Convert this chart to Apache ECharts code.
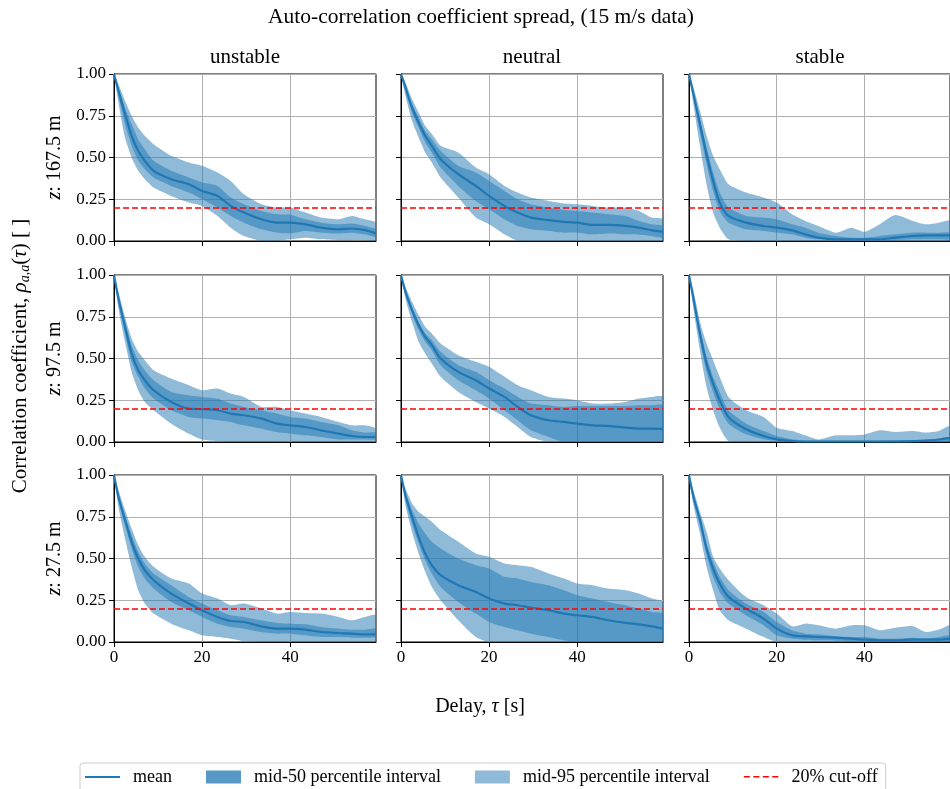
<!DOCTYPE html>
<html>
<head>
<meta charset="utf-8">
<script src="https://cdn.jsdelivr.net/npm/echarts@6/dist/echarts.min.js"></script>
<style>
html, body { margin: 0; padding: 0; background: #fff; }
#container { width: 950px; height: 789px; }
</style>
</head>
<body>
<div id="container"></div>
<script>
// delay axis (s), shared by all panels
var delay = [0, 1, 2.5, 4, 5.5, 7, 9, 13, 17, 20, 23.5, 26.5, 29.5, 33.5, 37, 40, 43.5, 47, 51, 54, 57, 59.5];
var stabilities = ['unstable', 'neutral', 'stable'];
var heights = ['167.5', '97.5', '27.5'];
var xTicks = [0, 20, 40];
var cutoff = 0.2;

// z = 167.5 m
var u167Mean = [1, .90, .76, .63, .54, .48, .42, .37, .34, .30, .27, .21, .17, .13, .11, .11, .10, .08, .07, .075, .065, .045];
var u167P75  = [1, .92, .80, .70, .61, .55, .48, .42, .38, .35, .33, .26, .22, .18, .16, .157, .13, .11, .10, .105, .09, .07];
var u167P25  = [1, .87, .70, .57, .48, .43, .38, .33, .29, .25, .20, .15, .11, .07, .05, .046, .06, .05, .045, .05, .04, .025];
var u167P97  = [1, .94, .84, .75, .68, .63, .58, .51, .47, .45, .41, .36, .28, .22, .20, .20, .17, .14, .13, .15, .13, .11];
var u167P2   = [1, .83, .62, .50, .42, .37, .32, .27, .23, .21, .15, .08, .03, 0, 0, .01, .02, .01, .005, .005, .005, 0];

var n167Mean = [1, .92, .80, .71, .63, .57, .49, .40, .33, .27, .21, .17, .14, .125, .115, .11, .096, .096, .09, .08, .064, .056];
var n167P75  = [1, .93, .82, .74, .66, .61, .54, .45, .41, .36, .30, .25, .22, .20, .185, .18, .17, .16, .15, .12, .10, .09];
var n167P25  = [1, .90, .77, .68, .59, .53, .44, .33, .24, .19, .13, .09, .07, .06, .05, .05, .04, .045, .04, .038, .03, .02];
var n167P97  = [1, .95, .85, .77, .69, .64, .57, .53, .44, .40, .33, .29, .26, .24, .225, .22, .21, .20, .20, .18, .14, .13];
var n167P2   = [1, .87, .72, .62, .53, .47, .38, .26, .14, .10, .04, 0, 0, 0, 0, 0, 0, 0, 0, 0, 0, 0];

var s167Mean = [1, .88, .70, .52, .36, .23, .15, .11, .09, .08, .064, .04, .02, .01, .01, .01, .01, .02, .03, .034, .034, .034];
var s167P75  = [1, .90, .73, .56, .41, .29, .20, .15, .14, .13, .10, .08, .05, .03, .02, .02, .03, .04, .05, .05, .05, .05];
var s167P25  = [1, .86, .65, .46, .30, .18, .11, .07, .06, .05, .04, .02, .01, .005, .005, .005, .005, .005, .01, .01, .01, .01];
var s167P97  = [1, .92, .78, .63, .51, .43, .34, .29, .26, .23, .16, .12, .09, .05, .08, .055, .10, .155, .12, .10, .11, .12];
var s167P2   = [1, .82, .57, .34, .17, .08, .01, 0, 0, 0, 0, 0, 0, 0, 0, 0, 0, 0, 0, 0, 0, 0];

// z = 97.5 m
var u97Mean = [1, .86, .69, .53, .43, .37, .31, .24, .20, .197, .19, .17, .16, .14, .11, .10, .09, .07, .05, .036, .03, .03];
var u97P75  = [1, .88, .72, .58, .49, .43, .37, .30, .28, .27, .26, .23, .21, .19, .17, .15, .14, .12, .10, .07, .056, .056];
var u97P25  = [1, .84, .65, .48, .39, .32, .26, .19, .15, .14, .13, .12, .10, .08, .06, .05, .04, .03, .015, .015, .015, .015];
var u97P97  = [1, .90, .75, .62, .54, .49, .43, .38, .34, .31, .32, .29, .27, .21, .21, .19, .17, .15, .12, .10, .10, .08];
var u97P2   = [1, .80, .60, .42, .31, .24, .19, .11, .05, .015, .005, 0, 0, 0, 0, 0, 0, 0, 0, 0, 0, 0];

var n97Mean = [1, .90, .79, .70, .63, .58, .50, .42, .37, .32, .27, .21, .16, .13, .12, .11, .10, .096, .086, .08, .08, .078];
var n97P75  = [1, .91, .81, .72, .65, .61, .54, .46, .42, .37, .32, .27, .23, .22, .21, .215, .215, .215, .215, .22, .22, .22];
var n97P25  = [1, .89, .77, .67, .60, .55, .46, .37, .31, .26, .19, .13, .07, .03, 0, 0, 0, 0, 0, 0, 0, 0];
var n97P97  = [1, .93, .84, .76, .69, .65, .59, .52, .48, .45, .39, .34, .31, .27, .26, .25, .23, .23, .24, .26, .27, .27];
var n97P2   = [1, .86, .72, .60, .53, .47, .39, .30, .24, .20, .15, .09, .03, 0, 0, 0, 0, 0, 0, 0, 0, 0];

var s97Mean = [1, .86, .65, .47, .35, .25, .15, .076, .036, .016, .006, .003, .003, .003, .003, .003, .003, .003, .005, .008, .015, .025];
var s97P75  = [1, .88, .68, .51, .39, .30, .19, .11, .066, .036, .016, .008, .008, .008, .008, .008, .008, .01, .012, .015, .02, .03];
var s97P25  = [1, .84, .61, .42, .30, .20, .11, .046, .016, .006, 0, 0, 0, 0, 0, 0, 0, 0, 0, 0, 0, 0];
var s97P97  = [1, .91, .72, .59, .49, .39, .27, .19, .15, .086, .066, .04, .015, .04, .04, .045, .07, .06, .066, .056, .066, .096];
var s97P2   = [1, .80, .55, .33, .19, .086, .006, 0, 0, 0, 0, 0, 0, 0, 0, 0, 0, 0, 0, 0, 0, 0];

// z = 27.5 m
var u27Mean = [1, .87, .73, .60, .50, .43, .37, .29, .23, .19, .15, .126, .12, .094, .08, .08, .074, .06, .054, .05, .046, .046];
var u27P75  = [1, .89, .76, .64, .54, .47, .41, .34, .27, .23, .19, .16, .15, .13, .114, .11, .106, .09, .08, .074, .074, .08];
var u27P25  = [1, .85, .70, .56, .45, .38, .32, .24, .19, .15, .11, .09, .08, .06, .05, .05, .04, .03, .03, .026, .026, .03];
var u27P97  = [1, .91, .79, .68, .58, .51, .45, .38, .35, .29, .26, .22, .23, .20, .17, .18, .174, .17, .15, .13, .15, .16];
var u27P2   = [1, .81, .62, .45, .31, .23, .17, .11, .07, .04, .03, .02, .006, 0, 0, 0, 0, 0, 0, 0, 0, 0];

var n27Mean = [1, .88, .75, .63, .53, .46, .40, .34, .30, .26, .23, .22, .206, .19, .17, .16, .15, .13, .114, .106, .094, .08];
var n27P75  = [1, .90, .79, .71, .65, .60, .56, .50, .46, .44, .39, .38, .36, .34, .31, .28, .26, .24, .22, .20, .18, .17];
var n27P25  = [1, .85, .71, .59, .49, .41, .33, .24, .17, .12, .09, .07, .05, .03, .01, 0, 0, 0, 0, 0, 0, 0];
var n27P97  = [1, .92, .83, .78, .75, .72, .67, .60, .53, .51, .47, .46, .45, .41, .38, .35, .34, .32, .31, .29, .26, .24];
var n27P2   = [1, .82, .66, .53, .42, .33, .25, .13, .03, 0, 0, 0, 0, 0, 0, 0, 0, 0, 0, 0, 0, 0];

var s27Mean = [1, .87, .73, .56, .44, .35, .27, .20, .14, .08, .04, .034, .03, .026, .02, .014, .01, .01, .014, .014, .014, .02];
var s27P75  = [1, .89, .75, .59, .48, .39, .31, .23, .18, .12, .07, .05, .046, .034, .03, .03, .02, .02, .026, .02, .03, .04];
var s27P25  = [1, .85, .70, .52, .39, .30, .23, .16, .10, .04, .02, .014, .01, .008, .005, .005, .005, .005, .005, .005, .005, .005];
var s27P97  = [1, .91, .78, .66, .51, .44, .37, .27, .22, .17, .094, .11, .10, .08, .10, .10, .07, .085, .095, .06, .075, .10];
var s27P2   = [1, .82, .65, .45, .31, .19, .13, .08, .03, 0, 0, 0, 0, 0, 0, 0, 0, 0, 0, 0, 0, 0];

// panels row by row (height), column by column (stability): [p2.5, p25, mean, p75, p97.5]
var panels = [
	[u167P2, u167P25, u167Mean, u167P75, u167P97],
	[n167P2, n167P25, n167Mean, n167P75, n167P97],
	[s167P2, s167P25, s167Mean, s167P75, s167P97],
	[u97P2, u97P25, u97Mean, u97P75, u97P97],
	[n97P2, n97P25, n97Mean, n97P75, n97P97],
	[s97P2, s97P25, s97Mean, s97P75, s97P97],
	[u27P2, u27P25, u27Mean, u27P75, u27P97],
	[n27P2, n27P25, n27Mean, n27P75, n27P97],
	[s27P2, s27P25, s27Mean, s27P75, s27P97]
];

var FONT = '"Liberation Serif", "DejaVu Serif", serif';
var BLUE = '#1f77b4';
var gridLefts = [114, 401, 689];
var gridTops = [74, 275, 475];
var gridW = 262, gridH = 167;

function pairs(vals) {
	return delay.map(function(d, k) { return [d, vals[k]]; });
}

// band between two percentile curves, drawn as one polygon through the axes
function bandSeries(name, i, lo, hi) {
	return {
		type: 'custom', name: name, xAxisIndex: i, yAxisIndex: i,
		data: [[0, 0]], clip: true, silent: true, z: 2,
		renderItem: function(params, api) {
			var pts = [];
			for (var k = 0; k < delay.length; k++) pts.push(api.coord([delay[k], hi[k]]));
			for (var k2 = delay.length - 1; k2 >= 0; k2--) pts.push(api.coord([delay[k2], lo[k2]]));
			return {
				type: 'polygon',
				shape: { points: pts, smooth: 0.2 },
				style: { fill: BLUE, opacity: 0.5 }
			};
		}
	};
}

var grids = [], xAxes = [], yAxes = [], series = [];
panels.forEach(function(p, i) {
	var r = Math.floor(i / 3), c = i % 3;
	grids.push({
		left: gridLefts[c], top: gridTops[r], width: gridW, height: gridH,
		show: true, borderColor: '#000', borderWidth: 1
	});
	xAxes.push({
		gridIndex: i, type: 'value', min: 0, max: 59.5, interval: 20,
		axisLine: { show: true, onZero: false, lineStyle: { color: '#000', width: 1 } },
		axisTick: { show: true, length: 5, customValues: xTicks, lineStyle: { color: '#000' } },
		axisLabel: { show: r === 2, customValues: xTicks, margin: 7, color: '#000', fontFamily: FONT, fontSize: 17 },
		splitLine: { show: true, lineStyle: { color: '#b0b0b0', width: 1 } }
	});
	yAxes.push({
		gridIndex: i, type: 'value', min: 0, max: 1, interval: 0.25,
		axisLine: { show: true, lineStyle: { color: '#000', width: 1 } },
		axisTick: { show: true, length: 5, lineStyle: { color: '#000' } },
		axisLabel: {
			show: c === 0, margin: 8, color: '#000', fontFamily: FONT, fontSize: 17,
			formatter: function(v) { return v.toFixed(2); }
		},
		splitLine: { show: true, lineStyle: { color: '#b0b0b0', width: 1 } }
	});
	series.push(bandSeries('mid-95 percentile interval', i, p[0], p[4]));
	series.push(bandSeries('mid-50 percentile interval', i, p[1], p[3]));
	series.push({
		type: 'line', name: 'mean', xAxisIndex: i, yAxisIndex: i, symbol: 'none', smooth: 0.25,
		data: pairs(p[2]), color: BLUE, lineStyle: { color: BLUE, width: 2.2 }, z: 3
	});
	series.push({
		type: 'line', name: '20% cut-off', xAxisIndex: i, yAxisIndex: i, data: [], color: '#ff0000', z: 4,
		markLine: {
			silent: true, symbol: 'none', animation: false, label: { show: false },
			lineStyle: { color: '#ff0000', type: [6, 3], width: 1.5 },
			data: [{ yAxis: cutoff }]
		}
	});
});

var graphics = [];
graphics.push({
	type: 'text', x: 481, y: 17,
	style: { text: 'Auto-correlation coefficient spread, (15 m/s data)', font: '21.5px ' + FONT, fill: '#000', align: 'center', verticalAlign: 'middle' }
});
stabilities.forEach(function(s, c) {
	graphics.push({
		type: 'text', x: gridLefts[c] + gridW / 2, y: 57,
		style: { text: s, font: '21px ' + FONT, fill: '#000', align: 'center', verticalAlign: 'middle' }
	});
});
heights.forEach(function(h, r) {
	graphics.push({
		type: 'text', x: 55, y: gridTops[r] + gridH / 2, rotation: Math.PI / 2,
		style: {
			text: '{i|z}{t|: ' + h + ' m}', align: 'center', verticalAlign: 'middle',
			rich: {
				i: { fontFamily: FONT, fontSize: 20, fontStyle: 'italic', fill: '#000' },
				t: { fontFamily: FONT, fontSize: 20, fill: '#000' }
			}
		}
	});
});
graphics.push({
	type: 'text', x: 20, y: 356, rotation: Math.PI / 2,
	style: {
		text: '{t|Correlation coefficient, }{i|ρ}{s|a,a}{t|(}{i|τ}{t|) [ ]}', align: 'center', verticalAlign: 'middle',
		rich: {
			t: { fontFamily: FONT, fontSize: 21, fill: '#000', lineHeight: 24 },
			i: { fontFamily: FONT, fontSize: 21, fontStyle: 'italic', fill: '#000', lineHeight: 24 },
			s: { fontFamily: FONT, fontSize: 14, fontStyle: 'italic', fill: '#000', lineHeight: 24, verticalAlign: 'bottom', padding: [8, 0, 0, 0] }
		}
	}
});
graphics.push({
	type: 'text', x: 480, y: 707,
	style: {
		text: '{t|Delay, }{i|τ}{t| [s]}', align: 'center', verticalAlign: 'middle',
		rich: {
			t: { fontFamily: FONT, fontSize: 20, fill: '#000' },
			i: { fontFamily: FONT, fontSize: 20, fontStyle: 'italic', fill: '#000' }
		}
	}
});

var linePath = 'path://M0,0L0.01,0L0,0.01Z M0,5.5H35V7.5H0Z M0,13L0.01,13L0,12.99Z';
var dashPath = 'path://M0,0L0.01,0L0,0.01Z M0,5.5h6v1.6h-6Z M9.5,5.5h6v1.6h-6Z M19,5.5h6v1.6h-6Z M28.5,5.5h6v1.6h-6Z M0,13L0.01,13L0,12.99Z';

var myChart = echarts.init(document.getElementById('container'));
var option = {
	animation: false,
	backgroundColor: '#fff',
	grid: grids,
	xAxis: xAxes,
	yAxis: yAxes,
	series: series,
	graphic: graphics,
	legend: {
		left: 80, top: 763,
		itemWidth: 35, itemHeight: 13, itemGap: 34,
		padding: [5, 8, 12, 5],
		borderColor: '#cccccc', borderWidth: 1, borderRadius: 3,
		selectedMode: false,
		textStyle: { fontFamily: FONT, fontSize: 18, color: '#000', padding: [0, 0, 0, 8] },
		data: [
			{ name: 'mean', icon: linePath, itemStyle: { color: BLUE } },
			{ name: 'mid-50 percentile interval', icon: 'rect', itemStyle: { color: '#5799c6' } },
			{ name: 'mid-95 percentile interval', icon: 'rect', itemStyle: { color: '#8fbbd9' } },
			{ name: '20% cut-off', icon: dashPath, itemStyle: { color: '#ff0000' } }
		]
	}
};
myChart.setOption(option);
</script>
</body>
</html>
